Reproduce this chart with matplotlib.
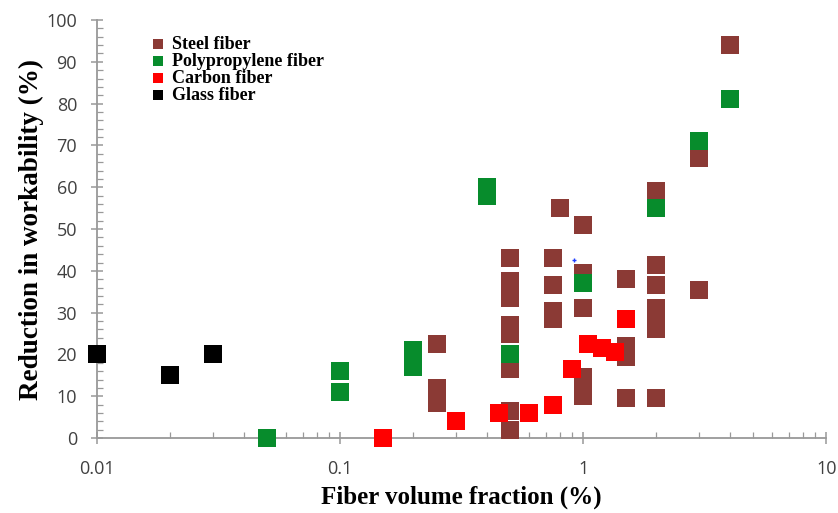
import numpy as np
import matplotlib.pyplot as plt
from matplotlib.ticker import FixedLocator, MultipleLocator, LogLocator, NullFormatter

# data
steel_x = [0.25, 0.25, 0.25, 0.5, 0.5, 0.5, 0.5, 0.5, 0.5, 0.5, 0.5, 0.5,
           0.75, 0.75, 0.75, 0.75, 0.8, 1.0, 1.0, 1.0, 1.0, 1.0, 1.0,
           1.5, 1.5, 1.5, 1.5, 2.0, 2.0, 2.0, 2.0, 2.0, 2.0, 2.0, 3.0, 3.0, 4.0]
steel_y = [22.5, 12, 8.5, 43, 37.5, 35, 33.5, 27, 25, 16.5, 6.5, 2,
           43, 36.5, 30.5, 28.5, 55, 51, 39.5, 31, 14.5, 12, 10,
           38, 22, 19.5, 9.5, 59, 41.5, 36.5, 31, 28.5, 26, 9.5, 67, 35.5, 94]

pp_x = [0.05, 0.1, 0.1, 0.2, 0.2, 0.4, 0.4, 0.5, 1.0, 2.0, 3.0, 4.0]
pp_y = [0, 11, 16, 17, 21, 58, 60, 20, 37, 55, 71, 81]

carbon_x = [0.15, 0.3, 0.45, 0.6, 0.75, 0.9, 1.05, 1.2, 1.35, 1.5]
carbon_y = [0, 4, 6, 6, 8, 16.5, 22.5, 21.5, 20.5, 28.5]

glass_x = [0.01, 0.02, 0.03]
glass_y = [20, 15, 20]

series = [
    ("Steel fiber", steel_x, steel_y, "#8B3A35"),
    ("Polypropylene fiber", pp_x, pp_y, "#078C2C"),
    ("Carbon fiber", carbon_x, carbon_y, "#FF0000"),
    ("Glass fiber", glass_x, glass_y, "#000000"),
]

fig = plt.figure(figsize=(8.38, 5.13), dpi=100)
ax = fig.add_axes([0.116, 0.146, 0.870, 0.815])

for label, xs, ys, col in series:
    ax.scatter(xs, ys, marker="s", s=185, color=col, linewidths=0,
               label=label, clip_on=False, zorder=3)

# small blue speck visible in the original
ax.plot([0.92], [42.5], marker="+", color="#1f3fff", markersize=3, lw=0, zorder=4)

ax.set_xscale("log")
ax.set_xlim(0.01, 10)
ax.set_ylim(0, 100)

ax.xaxis.set_major_locator(FixedLocator([0.01, 0.1, 1, 10]))
ax.xaxis.set_minor_locator(LogLocator(base=10, subs=np.arange(2, 10)))
ax.xaxis.set_minor_formatter(NullFormatter())
ax.set_xticklabels(["0.01", "0.1", "1", "10"])
ax.yaxis.set_major_locator(MultipleLocator(10))
ax.yaxis.set_minor_locator(MultipleLocator(2))

for s in ["top", "right"]:
    ax.spines[s].set_visible(False)
for s in ["left", "bottom"]:
    ax.spines[s].set_color("#999999")
    ax.spines[s].set_linewidth(1.3)

ax.tick_params(which="major", direction="inout", length=9, width=1.1,
               color="#999999", labelsize=13, labelcolor="#404040")
ax.tick_params(which="minor", direction="in", length=4, width=0.9, color="#999999")
for lab in ax.get_xticklabels() + ax.get_yticklabels():
    lab.set_family("Open Sans")
ax.tick_params(axis="x", pad=11)
ax.tick_params(axis="y", pad=10)

ax.set_xlabel("Fiber volume fraction (%)", family="Liberation Serif",
              fontweight="bold", fontsize=18, labelpad=6)
ax.set_ylabel("Reduction in workability (%)", family="Liberation Serif",
              fontweight="bold", fontsize=19.5, labelpad=2)

leg = ax.legend(loc="upper left", bbox_to_anchor=(0.066, 0.979), frameon=False,
                handlelength=0.65, handletextpad=0.4, labelspacing=0.0,
                markerscale=0.58, borderaxespad=0.0,
                prop={"family": "Liberation Serif", "weight": "bold", "size": 13})

fig.savefig("out.png", dpi=100)
